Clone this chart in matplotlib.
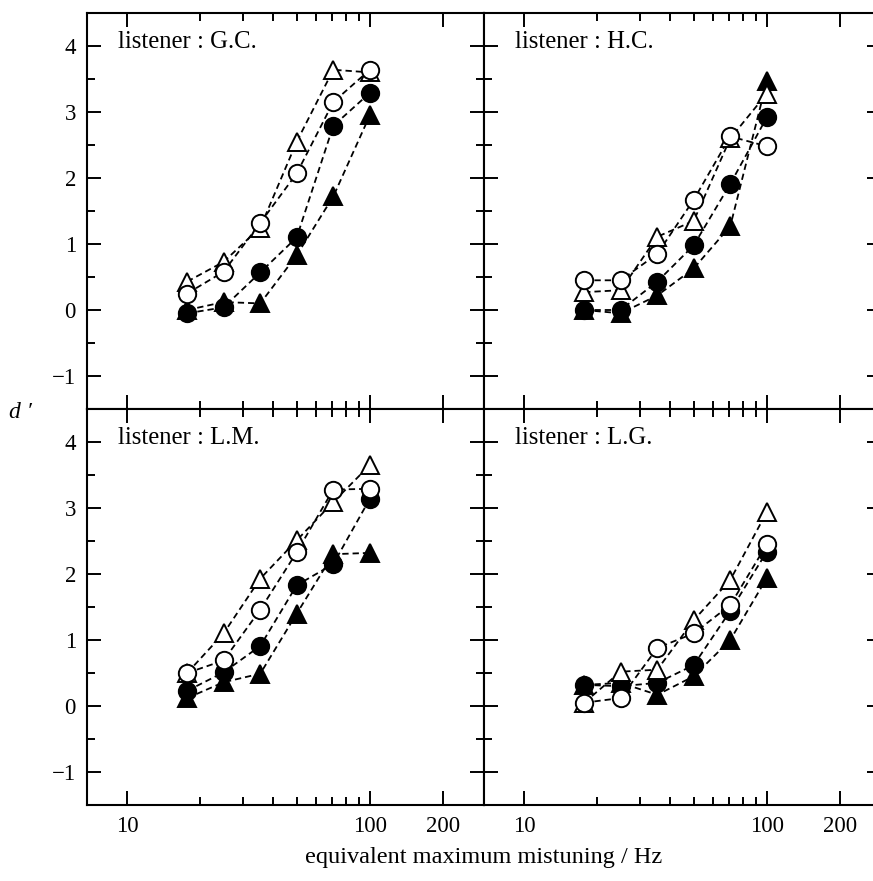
import numpy as np
import matplotlib
matplotlib.use("Agg")
import matplotlib.pyplot as plt
from matplotlib.ticker import FixedLocator, NullFormatter

# ================================
# Data: d' per mistuning step, four conditions per listener
# ================================
mistuning_hz = [17.7, 25.0, 35.4, 50.0, 70.7, 100.0]

listeners = ["G.C.", "H.C.", "L.M.", "L.G."]

gc_open_tri    = [0.43, 0.73, 1.25, 2.55, 3.64, 3.60]
gc_open_circ   = [0.25, 0.58, 1.32, 2.07, 3.15, 3.64]
gc_filled_circ = [-0.05, 0.04, 0.57, 1.10, 2.79, 3.29]
gc_filled_tri  = [0.00, 0.12, 0.10, 0.83, 1.72, 2.95]

hc_open_tri    = [0.27, 0.30, 1.11, 1.35, 2.60, 3.28]
hc_open_circ   = [0.45, 0.45, 0.85, 1.67, 2.63, 2.48]
hc_filled_circ = [0.00, 0.00, 0.43, 0.98, 1.91, 2.92]
hc_filled_tri  = [0.00, -0.05, 0.22, 0.63, 1.27, 3.47]

lm_open_tri    = [0.50, 1.10, 1.93, 2.51, 3.09, 3.65]
lm_open_circ   = [0.50, 0.69, 1.46, 2.33, 3.28, 3.29]
lm_filled_circ = [0.23, 0.51, 0.91, 1.83, 2.15, 3.14]
lm_filled_tri  = [0.12, 0.36, 0.49, 1.40, 2.30, 2.32]

lg_open_tri    = [0.05, 0.52, 0.55, 1.30, 1.91, 2.94]
lg_open_circ   = [0.05, 0.12, 0.88, 1.10, 1.53, 2.45]
lg_filled_circ = [0.32, 0.30, 0.35, 0.62, 1.44, 2.34]
lg_filled_tri  = [0.32, 0.35, 0.17, 0.45, 1.00, 1.94]

series = {
    "G.C.": [gc_filled_tri, gc_filled_circ, gc_open_tri, gc_open_circ],
    "H.C.": [hc_filled_tri, hc_filled_circ, hc_open_tri, hc_open_circ],
    "L.M.": [lm_filled_tri, lm_filled_circ, lm_open_tri, lm_open_circ],
    "L.G.": [lg_filled_tri, lg_filled_circ, lg_open_tri, lg_open_circ],
}
# marker, face colour, drawn bottom to top
styles = [("^", "black"), ("o", "black"), ("^", "white"), ("o", "white")]

x_major = [10, 100, 200]
x_minor = [20, 30, 40, 50, 60, 70, 80, 90]
y_major = [-1, 0, 1, 2, 3, 4]
y_minor = [-1.5, -0.5, 0.5, 1.5, 2.5, 3.5]

# ================================
# Figure
# ================================
plt.rcParams["font.family"] = ["Liberation Serif", "DejaVu Serif"]

W, H = 873, 881
fig = plt.figure(figsize=(W / 100, H / 100), dpi=100)

ax_w = 397 / W
ax_h = 396 / H
positions = {
    "G.C.": (87 / W, 1 - 409 / H),
    "H.C.": (484 / W, 1 - 409 / H),
    "L.M.": (87 / W, 1 - 805 / H),
    "L.G.": (484 / W, 1 - 805 / H),
}

for name in listeners:
    x0, y0 = positions[name]
    ax = fig.add_axes([x0, y0, ax_w, ax_h])
    ax.set_xscale("log")
    ax.set_xlim(6.85, 295)
    ax.set_ylim(-1.5, 4.5)

    # dashed connecting lines under every marker
    for ys in series[name]:
        ax.plot(mistuning_hz, ys, color="black", lw=1.3, ls=(0, (3.5, 2.2)), zorder=2)
    for k, (ys, (mk, fc)) in enumerate(zip(series[name], styles)):
        ax.plot(mistuning_hz, ys, ls="none", marker=mk, ms=12.5,
                mfc=fc, mec="black", mew=1.4, zorder=3 + k)

    ax.xaxis.set_major_locator(FixedLocator(x_major))
    ax.xaxis.set_minor_locator(FixedLocator(x_minor))
    ax.xaxis.set_minor_formatter(NullFormatter())
    ax.set_xticklabels([str(v) for v in x_major])
    ax.yaxis.set_major_locator(FixedLocator(y_major))
    ax.yaxis.set_minor_locator(FixedLocator(y_minor))
    ax.set_yticklabels(["\u22121" if v < 0 else str(v) for v in y_major])

    ax.tick_params(which="both", direction="in", top=True, right=True,
                   width=1.4, labelsize=16.5, pad=8)
    ax.tick_params(which="major", length=10)
    ax.tick_params(which="minor", length=6)
    if name in ("G.C.", "H.C."):
        ax.tick_params(labelbottom=False)
    if name in ("H.C.", "L.G."):
        ax.tick_params(labelleft=False)
    for sp in ax.spines.values():
        sp.set_linewidth(1.5)

    ax.text(0.077, 0.928, f"listener : {name}", transform=ax.transAxes,
            ha="left", va="center", fontsize=17.8)

fig.text(20 / W, 1 - 412 / H, "d \u2032", fontsize=17, style="italic",
         ha="center", va="center")
fig.text(484 / W, 1 - 858 / H, "equivalent maximum mistuning / Hz",
         fontsize=17.5, ha="center", va="center")

fig.savefig("out.png", dpi=100)
